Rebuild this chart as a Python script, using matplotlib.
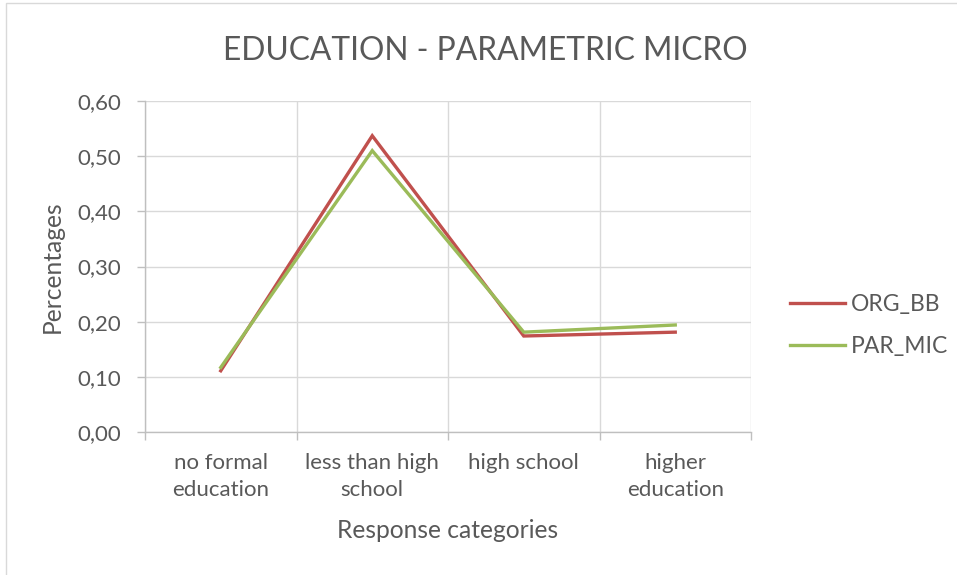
import matplotlib
matplotlib.use("Agg")
import matplotlib.pyplot as plt
from matplotlib.patches import Rectangle
from matplotlib.ticker import FixedLocator, FuncFormatter

categories = ["no formal\neducation", "less than high\nschool", "high school", "higher\neducation"]
org_bb = [0.111, 0.537, 0.174, 0.181]
par_mic = [0.117, 0.510, 0.181, 0.194]
y_ticks = [0.0, 0.1, 0.2, 0.3, 0.4, 0.5, 0.6]

TEXT = "#595959"
GRID = "#D9D9D9"
AXIS = "#BFBFBF"
plt.rcParams["font.family"] = ["Lato", "DejaVu Sans"]

W, H = 957, 575
fig = plt.figure(figsize=(W / 100, H / 100), dpi=100)
fig.patch.set_facecolor("white")
fig.patches.append(Rectangle((6 / W, -0.1), 1.2, 1.1 - 3 / H, transform=fig.transFigure,
                             fill=False, edgecolor=GRID, linewidth=1))

ax = fig.add_axes([145 / W, 1 - 432 / H, (751 - 145) / W, (432 - 101) / H])
x = list(range(len(categories)))
ax.plot(x, org_bb, color="#C0504D", linewidth=2.4, label="ORG_BB", solid_joinstyle="miter")
ax.plot(x, par_mic, color="#9BBB59", linewidth=2.4, label="PAR_MIC", solid_joinstyle="miter")

ax.set_xlim(-0.5, len(categories) - 0.5)
ax.set_ylim(0, 0.6)
ax.set_yticks(y_ticks)
ax.yaxis.set_major_formatter(FuncFormatter(lambda v, p: f"{v:.2f}".replace(".", ",")))
ax.xaxis.set_major_locator(FixedLocator([i - 0.5 for i in range(len(categories) + 1)]))
ax.xaxis.set_major_formatter(FuncFormatter(lambda v, p: ""))
ax.xaxis.set_minor_locator(FixedLocator(x))
ax.set_xticklabels(categories, minor=True)

ax.grid(True, which="major", color=GRID, linewidth=1)
ax.set_axisbelow(True)
for side in ["top", "right"]:
    ax.spines[side].set_visible(False)
for side in ["left", "bottom"]:
    ax.spines[side].set_color(AXIS)
    ax.spines[side].set_linewidth(1)
ax.tick_params(axis="both", which="major", color=AXIS, length=6, width=1, direction="out")
ax.tick_params(axis="y", labelsize=16, labelcolor=TEXT, pad=11)
ax.tick_params(axis="x", which="minor", length=0, labelsize=16, labelcolor=TEXT, pad=15)
for lbl in ax.get_xticklabels(minor=True):
    lbl.set_linespacing(1.45)

ax.set_ylabel("Percentages", fontsize=17.7, color=TEXT, labelpad=10)
ax.set_xlabel("Response categories", fontsize=17.7, color=TEXT, labelpad=14)
fig.text(485 / W, 1 - 60 / H, "EDUCATION - PARAMETRIC MICRO", fontsize=22.9, color=TEXT,
         ha="center", va="baseline")

ax.legend(loc="center left", bbox_to_anchor=(790 / W, 1 - 325.5 / H), bbox_transform=fig.transFigure,
          frameon=False, prop={"size": 16.5}, handlelength=2.4, handletextpad=0.27, labelspacing=0.95,
          borderpad=0, borderaxespad=0, labelcolor=TEXT)

fig.savefig("out.png", dpi=100, facecolor="white")
